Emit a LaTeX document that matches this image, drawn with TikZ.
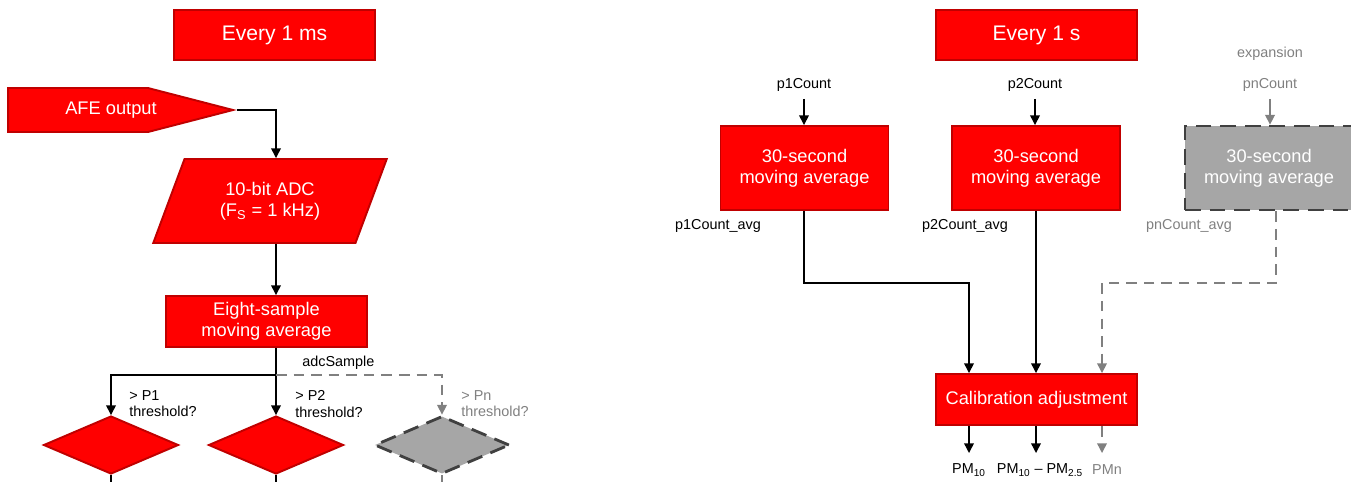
\documentclass[tikz,border=0pt]{standalone}
\usepackage{fontspec}
\setmainfont{Liberation Sans}
\usepackage{tikz}
\usetikzlibrary{arrows.meta, positioning, shapes.geometric, shapes.symbols, calc}
\usepackage{xcolor}
\definecolor{boxred}{HTML}{FF0000}
\definecolor{boxborder}{HTML}{C00000}
\definecolor{expfill}{HTML}{A6A6A6}
\definecolor{expborder}{HTML}{404040}
\definecolor{expgrey}{HTML}{808080}
\tikzset{
  block/.style={rectangle, draw=boxborder, fill=boxred, line width=1.1pt,
                inner sep=0pt, text=white, align=center,
                font=\fontsize{10.4}{12.2}\selectfont},
  timer/.style={block, minimum width=4.02cm, minimum height=1cm,
                font=\fontsize{12}{14}\selectfont},
  avgbox/.style={block, minimum width=3.36cm, minimum height=1.68cm},
  expbox/.style={avgbox, draw=expborder, fill=expfill, line width=1.6pt,
                 dash pattern=on 9pt off 5pt},
  decision/.style={diamond, draw=boxborder, fill=boxred, line width=1.1pt,
                   inner sep=0pt, minimum width=2.7cm, minimum height=1.16cm},
  expdecision/.style={decision, draw=expborder, fill=expfill, line width=1.6pt,
                      dash pattern=on 9pt off 5pt},
  lbl/.style={inner sep=0pt, align=left, font=\fontsize{8.2}{9.2}\selectfont},
  explbl/.style={lbl, text=expgrey},
  flow/.style={line width=0.8pt},
  diredge/.style={flow, -{Triangle[length=5.5pt, width=5.5pt]}},
  expflow/.style={flow, draw=expgrey},
  expdiredge/.style={diredge, draw=expgrey},
  expdash/.style={expdiredge, dash pattern=on 6pt off 4pt},
}
\begin{document}
\begin{tikzpicture}[x=0.02cm, y=-0.02cm]
    \useasboundingbox (0,0) rectangle (1351,481);
    \clip (0,0) rectangle (1351,481);
    % 1 ms task
    \node[timer] (ms) at (274.5,35) {Every 1 ms};
    \node[block, shape=signal, signal to=east, signal pointer angle=29,
          minimum width=4.5cm, minimum height=0.88cm] (afe) at (78,110)
          {\makebox[0pt]{\hspace{1.32cm}AFE output}};
    \node[block, trapezium, trapezium stretches=true, trapezium left angle=64.5,
          trapezium right angle=115.5, minimum width=4.68cm,
          minimum height=1.68cm] (adc) at (270,201) {10-bit ADC\\(F\textsubscript{S} = 1 kHz)};
    \node[block, minimum width=4.02cm, minimum height=1.02cm] (eight) at (266.5,321.5)
          {Eight-sample\\moving average};
    \node[decision] (d1) at (111,445) {};
    \node[decision] (d2) at (276,445) {};
    \node[expdecision] (dn) at (442,445) {};
    \coordinate (fork) at (276,375);
    \coordinate (d1end) at (111,490);
    \coordinate (d2end) at (276,490);
    \coordinate (dnend) at (442,490);
    \node[lbl, anchor=west] (adcs) at (302,363) {adcSample};
    \node[lbl, anchor=west] (t1) at (129,404) {> P1\\threshold?};
    \node[lbl, anchor=west] (t2) at (295,404) {> P2\\threshold?};
    \node[explbl, anchor=west] (tn) at (461,404) {> Pn\\threshold?};
    % Arcs
    \draw[diredge] (afe.east) -| (adc.north -| fork);
    \draw[diredge] (adc.south -| fork) -- (eight.north -| fork);
    \draw[flow] (eight.south -| fork) -- (fork);
    \draw[diredge] (fork) -| (d1.north);
    \draw[diredge] (fork) -- (d2.north);
    \draw[expdash] (fork) -| (dn.north);
    \draw[flow] (d1.south) -- (d1end);
    \draw[flow] (d2.south) -- (d2end);
    \draw[expflow] (dn.south) -- (dnend);
    % 1 s task
    \node[timer] (sec) at (1036.5,35) {Every 1 s};
    \node[lbl] (p1) at (804,85) {p1Count};
    \node[lbl] (p2) at (1035,85) {p2Count};
    \node[explbl] (expn) at (1270,54) {expansion};
    \node[explbl] (pn) at (1270,85) {pnCount};
    \node[avgbox] (avg1) at (804.5,168) {30-second\\moving average};
    \node[avgbox] (avg2) at (1036,168) {30-second\\moving average};
    \node[expbox] (avgn) at (1269,168) {30-second\\moving average};
    \node[lbl] (a1) at (718,226) {p1Count\_avg};
    \node[lbl] (a2) at (965,226) {p2Count\_avg};
    \node[explbl] (an) at (1189,226) {pnCount\_avg};
    \node[block, minimum width=4.02cm, minimum height=1.02cm] (cal) at (1036.5,399.5)
          {Calibration adjustment};
    \coordinate (bend1) at (804,283);
    \coordinate (bendn) at (1276,283);
    \coordinate (out1) at (969,453);
    \coordinate (out2) at (1036,453);
    \coordinate (outn) at (1102,453);
    \node[lbl] (pm1) at (969,470) {PM\textsubscript{10}};
    \node[lbl] (pm2) at (1040,470) {PM\textsubscript{10} – PM\textsubscript{2.5}};
    \node[explbl] (pmn) at (1107,470) {PMn};
    % Arcs
    \draw[diredge, shorten <=4pt] (p1.south) -- (avg1.north -| p1.south);
    \draw[diredge, shorten <=4pt] (p2.south) -- (avg2.north -| p2.south);
    \draw[expdiredge, shorten <=4pt] (pn.south) -- (avgn.north -| pn.south);
    \draw[diredge] (avg1.south -| bend1) -- (bend1) -| (cal.north -| out1);
    \draw[diredge] (avg2.south -| out2) -- (cal.north -| out2);
    \draw[expdash] (avgn.south -| bendn) -- (bendn) -| (cal.north -| outn);
    \draw[diredge] (cal.south -| out1) -- (out1);
    \draw[diredge] (cal.south -| out2) -- (out2);
    \draw[expdash] (cal.south -| outn) -- (outn);
\end{tikzpicture}
\end{document}
